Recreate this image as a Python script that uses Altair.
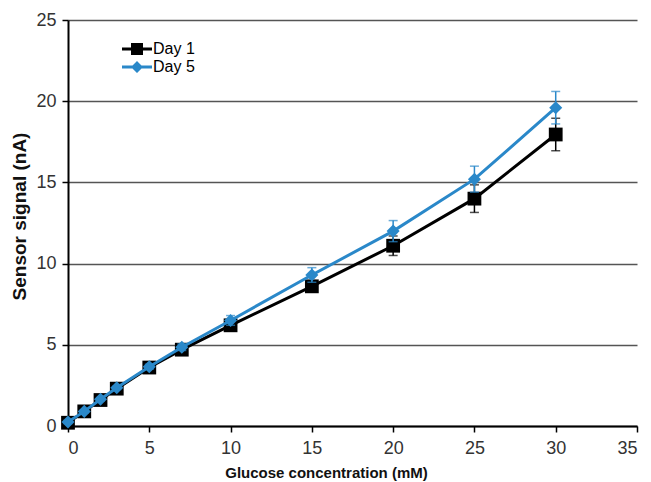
import altair as alt
import pandas as pd

# Glucose concentrations (mM) and sensor response (nA) with error magnitudes
glucose = [0, 1, 2, 3, 5, 7, 10, 15, 20, 25, 30]
day1 = [0.2, 0.9, 1.6, 2.3, 3.6, 4.7, 6.2, 8.6, 11.1, 14.0, 17.95]
day1_err = [0.1, 0.1, 0.1, 0.1, 0.15, 0.2, 0.25, 0.35, 0.6, 0.85, 1.0]
day5 = [0.25, 0.9, 1.65, 2.35, 3.65, 4.85, 6.5, 9.3, 12.0, 15.2, 19.6]
day5_err = [0.1, 0.1, 0.1, 0.1, 0.15, 0.2, 0.3, 0.45, 0.65, 0.8, 1.0]

series_names = ["Day 1", "Day 5"]
series_colors = ["#000000", "#2a88c9"]
# legend glyphs: a short line with the series marker on it
legend_glyphs = [
    "M-1.5,-0.15H1.5V0.15H-1.5Z M-0.6,-0.6H0.6V0.6H-0.6Z",
    "M-1.5,-0.15H1.5V0.15H-1.5Z M0,-0.6L0.6,0L0,0.6L-0.6,0Z",
]

rows = []
for name, vals, errs in [("Day 1", day1, day1_err), ("Day 5", day5, day5_err)]:
    for g, v, e in zip(glucose, vals, errs):
        rows.append({"glucose": g, "signal": v, "lo": v - e, "hi": v + e, "series": name})
df = pd.DataFrame(rows)

FONT = "Liberation Sans"

legend_def = alt.Legend(
    title=None,
    orient="none",
    legendX=59,
    legendY=19,
    symbolSize=400,
    symbolStrokeWidth=0,
    symbolOpacity=1,
    labelFont=FONT,
    labelFontSize=16,
    labelColor="#000000",
    labelOffset=6,
    rowPadding=0,
)

x_enc = alt.X(
    "glucose:Q",
    scale=alt.Scale(domain=[0, 35], nice=False),
    axis=alt.Axis(
        values=list(range(0, 36, 5)),
        title="Glucose concentration (mM)",
        titleFontSize=15,
        titleX=258,
        titleAnchor="start",
        titleAlign="center",
        titlePadding=8,
        labelPadding=7,
        grid=False,
    ),
)
y_enc = alt.Y(
    "signal:Q",
    scale=alt.Scale(domain=[0, 25], nice=False),
    axis=alt.Axis(
        values=list(range(0, 26, 5)),
        title="Sensor signal (nA)",
        titleFontSize=19,
        titleY=196,
        titleAnchor="start",
        titleAlign="center",
        titlePadding=6,
        labelPadding=6,
        grid=True,
    ),
)
color_enc = alt.Color(
    "series:N",
    scale=alt.Scale(domain=series_names, range=series_colors),
    legend=legend_def,
)

base = alt.Chart(df)


def series_layers(name, shape, size):
    sub = base.transform_filter(alt.datum.series == name)
    err = sub.mark_rule(strokeWidth=1.5).encode(
        x=x_enc, y=alt.Y("lo:Q"), y2="hi:Q", color=color_enc
    )
    cap_lo = sub.mark_tick(orient="horizontal", size=9, thickness=1.5).encode(
        x=x_enc, y=alt.Y("lo:Q"), color=color_enc
    )
    cap_hi = sub.mark_tick(orient="horizontal", size=9, thickness=1.5).encode(
        x=x_enc, y=alt.Y("hi:Q"), color=color_enc
    )
    line = sub.mark_line(strokeWidth=3).encode(x=x_enc, y=y_enc, color=color_enc)
    pts = sub.mark_point(shape=shape, filled=True, size=size, opacity=1).encode(
        x=x_enc, y=y_enc, color=color_enc
    )
    return [err, cap_lo, cap_hi, line, pts]


legend_layer = base.mark_point(filled=True, size=0, opacity=1).encode(
    x=x_enc,
    y=y_enc,
    color=color_enc,
    shape=alt.Shape(
        "series:N",
        scale=alt.Scale(domain=series_names, range=legend_glyphs),
        legend=legend_def,
    ),
)

layers = series_layers("Day 1", "square", 190) + series_layers("Day 5", "diamond", 170) + [legend_layer]

chart = (
    alt.layer(*layers)
    .properties(
        width=569,
        height=406,
        autosize=alt.AutoSizeParams(type="none"),
        padding={"left": 68, "top": 20, "right": 14, "bottom": 56},
    )
    .configure_view(stroke=None)
    .configure_axis(
        labelFont=FONT,
        labelFontSize=18,
        labelColor="#333333",
        titleFont=FONT,
        titleFontWeight="bold",
        titleColor="#111111",
        domainColor="#000000",
        domainWidth=2,
        tickColor="#000000",
        tickWidth=1.5,
        tickSize=6,
        gridColor="#555555",
        gridWidth=1.5,
    )
)

chart.save("out.html", embed_options={"renderer": "svg", "actions": False})
